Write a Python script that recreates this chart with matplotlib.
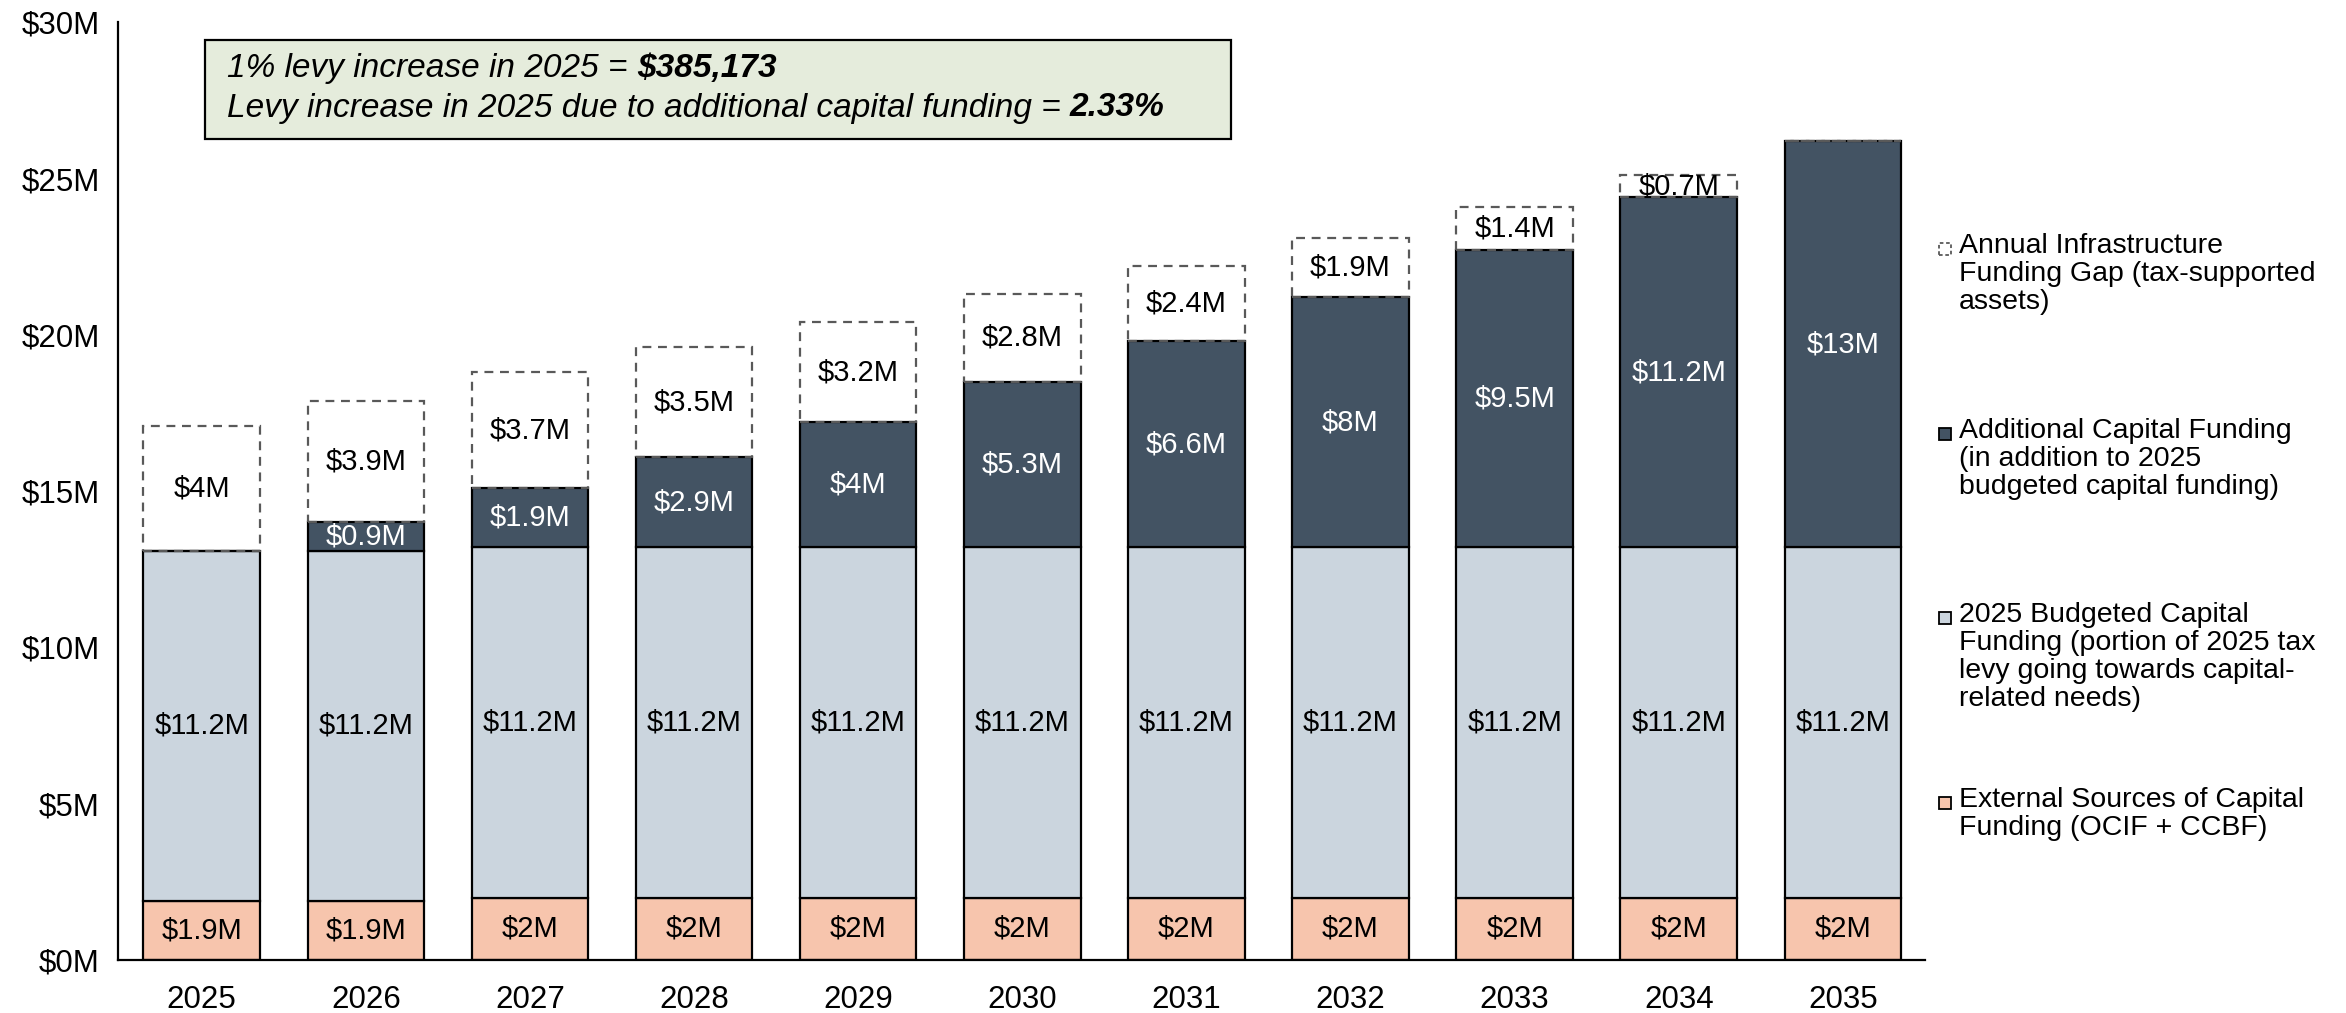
import matplotlib
matplotlib.use("Agg")
import matplotlib.pyplot as plt
from matplotlib.patches import Rectangle
import numpy as np

plt.rcParams['font.family'] = ['Liberation Sans', 'DejaVu Sans']

# The data ($M)
years = ['2025', '2026', '2027', '2028', '2029', '2030',
         '2031', '2032', '2033', '2034', '2035']
external = [1.9, 1.9, 2, 2, 2, 2, 2, 2, 2, 2, 2]
budgeted = [11.2] * 11
additional = [0, 0.9, 1.9, 2.9, 4, 5.3, 6.6, 8, 9.5, 11.2, 13]
gap = [4, 3.9, 3.7, 3.5, 3.2, 2.8, 2.4, 1.9, 1.4, 0.7, 0]

y_ticks = [0, 5, 10, 15, 20, 25, 30]

legend_labels = ['Annual Infrastructure\nFunding Gap (tax-supported\nassets)',
                 'Additional Capital Funding\n(in addition to 2025\nbudgeted capital funding)',
                 '2025 Budgeted Capital\nFunding (portion of 2025 tax\nlevy going towards capital-\nrelated needs)',
                 'External Sources of Capital\nFunding (OCIF + CCBF)']

peach = '#f7c5ad'
light = '#cbd5de'
dark = '#435363'
gap_edge = '#595959'

fig = plt.figure(figsize=(23.46, 10.13), dpi=100)
ax = fig.add_axes([0.0503, 0.0523, 0.7702, 0.9257])

x = np.arange(len(years))
w = 0.71
lw = 1.6

ext = np.array(external)
bud = np.array(budgeted)
add = np.array(additional)
gp = np.array(gap)

ax.bar(x, ext, w, color=peach, edgecolor='k', linewidth=lw, zorder=2)
ax.bar(x, bud, w, bottom=ext, color=light, edgecolor='k', linewidth=lw, zorder=2)
ax.bar(x, add, w, bottom=ext + bud, color=dark, edgecolor='k', linewidth=lw, zorder=2)
ax.bar(x, gp, w, bottom=ext + bud + add, facecolor='none', edgecolor=gap_edge,
       linewidth=lw, linestyle=(0, (4, 3)), zorder=3)

def lab(v):
    return '$%gM' % v

fs = 21
for i in range(len(years)):
    ax.text(x[i], ext[i] / 2, lab(ext[i]), ha='center', va='center', fontsize=fs, color='k')
    ax.text(x[i], ext[i] + bud[i] / 2, lab(bud[i]), ha='center', va='center', fontsize=fs, color='k')
    if add[i] > 0:
        ax.text(x[i], ext[i] + bud[i] + add[i] / 2, lab(add[i]), ha='center', va='center',
                fontsize=fs, color='white', zorder=4)
    if gp[i] > 0:
        ax.text(x[i], ext[i] + bud[i] + add[i] + gp[i] / 2, lab(gp[i]), ha='center', va='center',
                fontsize=fs, color='k', zorder=4)

ax.set_xlim(-0.51, 10.5)
ax.set_ylim(0, 30)
ax.set_yticks(y_ticks)
ax.set_yticklabels(['$%dM' % t for t in y_ticks], fontsize=22.5)
ax.set_xticks(x)
ax.set_xticklabels(years, fontsize=22.5)
ax.tick_params(length=0, pad=18)
ax.tick_params(axis='y', pad=13)
for s in ['top', 'right']:
    ax.spines[s].set_visible(False)
for s in ['left', 'bottom']:
    ax.spines[s].set_linewidth(1.6)

# annotation box
box = Rectangle((205 / 2346, 1 - 139 / 1013), (1231 - 205) / 2346, 99 / 1013,
                transform=fig.transFigure, facecolor='#e5ecdc', edgecolor='k',
                linewidth=1.6, zorder=5)
fig.patches.append(box)
afs = 24
ta = fig.text(227 / 2346, 1 - 69 / 1013, '1% levy increase in 2025 = ', fontsize=afs,
              style='italic', va='center', ha='left', zorder=6)
tb = fig.text(227 / 2346, 1 - 108 / 1013,
              'Levy increase in 2025 due to additional capital funding = ',
              fontsize=afs, style='italic', va='center', ha='left', zorder=6)

fig.canvas.draw()
r = fig.canvas.get_renderer()
bb0 = ta.get_window_extent(r)
bb1 = tb.get_window_extent(r)
fig.text(bb0.x1 / 2346, 1 - 69 / 1013, '$385,173', fontsize=afs, style='italic',
         weight='bold', va='center', ha='left', zorder=6)
fig.text(bb1.x1 / 2346, 1 - 108 / 1013, '2.33%', fontsize=afs, style='italic',
         weight='bold', va='center', ha='left', zorder=6)

# legend drawn by hand (entries top-aligned at fixed spacing)
tops = [249, 434, 618, 803]
faces = ['white', dark, light, peach]
for k in range(4):
    yc = 1 - tops[k] / 1013
    sq = Rectangle((1939 / 2346, yc - 6 / 1013), 12 / 2346, 12 / 1013,
                   transform=fig.transFigure, facecolor=faces[k],
                   edgecolor=gap_edge if k == 0 else 'k', linewidth=1.3,
                   linestyle=(0, (2, 1.5)) if k == 0 else '-')
    fig.patches.append(sq)
    fig.text(1959 / 2346, yc + 16 / 1013, legend_labels[k], fontsize=20.5, va='top',
             ha='left', linespacing=1.1)

fig.savefig('out.png', dpi=100)
